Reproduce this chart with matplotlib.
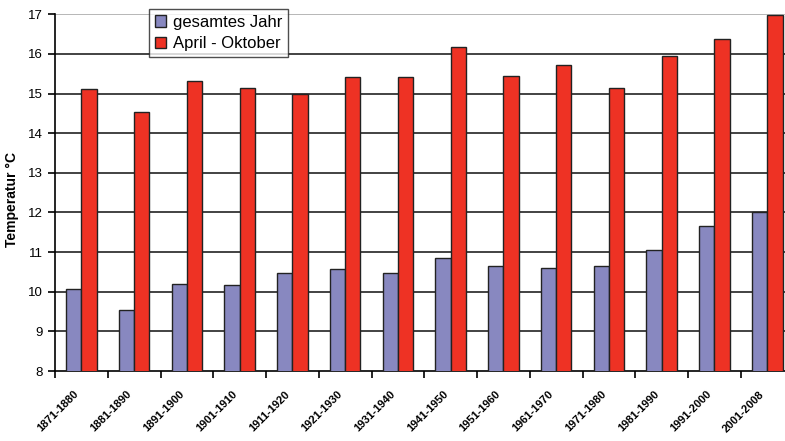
import numpy as np
import matplotlib
matplotlib.use("Agg")
import matplotlib.pyplot as plt

plt.rcParams["font.family"] = ["Liberation Sans", "DejaVu Sans"]

decades = ["1871-1880", "1881-1890", "1891-1900", "1901-1910", "1911-1920",
           "1921-1930", "1931-1940", "1941-1950", "1951-1960", "1961-1970",
           "1971-1980", "1981-1990", "1991-2000", "2001-2008"]
year_temp = [10.06, 9.55, 10.2, 10.16, 10.47, 10.57, 10.47, 10.84, 10.64,
             10.61, 10.64, 11.05, 11.66, 12.0]
summer_temp = [15.11, 14.53, 15.32, 15.14, 14.98, 15.42, 15.42, 16.17, 15.44,
               15.72, 15.14, 15.96, 16.37, 16.98]
yticks = [8, 9, 10, 11, 12, 13, 14, 15, 16, 17]

W, H = 785, 441
fig = plt.figure(figsize=(W / 100, H / 100), dpi=100)
# axes right edge runs past the image like in the original
ax = fig.add_axes([55 / W, 1 - 371 / H, 738.6 / W, (371 - 14.3) / H])

x = np.arange(len(decades))
bw = 0.29
ax.bar(x + 0.5 - bw / 2, year_temp, bw, color="#8888c0",
       edgecolor="#222222", linewidth=1.0, label="gesamtes Jahr", zorder=3)
ax.bar(x + 0.5 + bw / 2, summer_temp, bw, color="#ee3224",
       edgecolor="#222222", linewidth=1.0, label="April - Oktober", zorder=3)

ax.set_xlim(0, len(decades))
ax.set_ylim(8, 17)
ax.set_yticks(yticks)
ax.set_yticklabels([str(v) for v in yticks], fontsize=9.5)

# gridlines
for v in yticks[1:]:
    ax.axhline(v, color="#aaaaaa" if v == 17 else "#222222", linewidth=1.2, zorder=1)

ax.set_xticks(x)
ax.set_xticklabels([])
ax.set_xticks(x + 0.35, minor=True)
ax.set_xticklabels(decades, minor=True, rotation=45, ha="right", va="top",
                   rotation_mode="anchor", fontsize=8, fontweight="bold")
ax.tick_params(axis="x", which="minor", length=0, pad=13)
ax.tick_params(axis="x", which="major", length=5, width=1.2, direction="out")
ax.tick_params(axis="y", length=5, width=1.2, direction="out", pad=4)

for s in ["top", "right"]:
    ax.spines[s].set_visible(False)
ax.spines["left"].set_linewidth(1.2)
ax.spines["bottom"].set_linewidth(1.2)

ax.set_ylabel("Temperatur °C", fontsize=10, fontweight="bold")
ax.yaxis.set_label_coords(-0.049, 0.48)

leg = ax.legend(loc="upper left", bbox_to_anchor=(0.127, 1.015), borderaxespad=0,
                fontsize=12, frameon=True, fancybox=False, handlelength=0.7,
                handleheight=0.7, handletextpad=0.4, labelspacing=0.4,
                borderpad=0.35)
leg.get_frame().set_edgecolor("#222222")
leg.get_frame().set_linewidth(1.0)
leg.set_zorder(5)

fig.savefig("out.png", dpi=100)
